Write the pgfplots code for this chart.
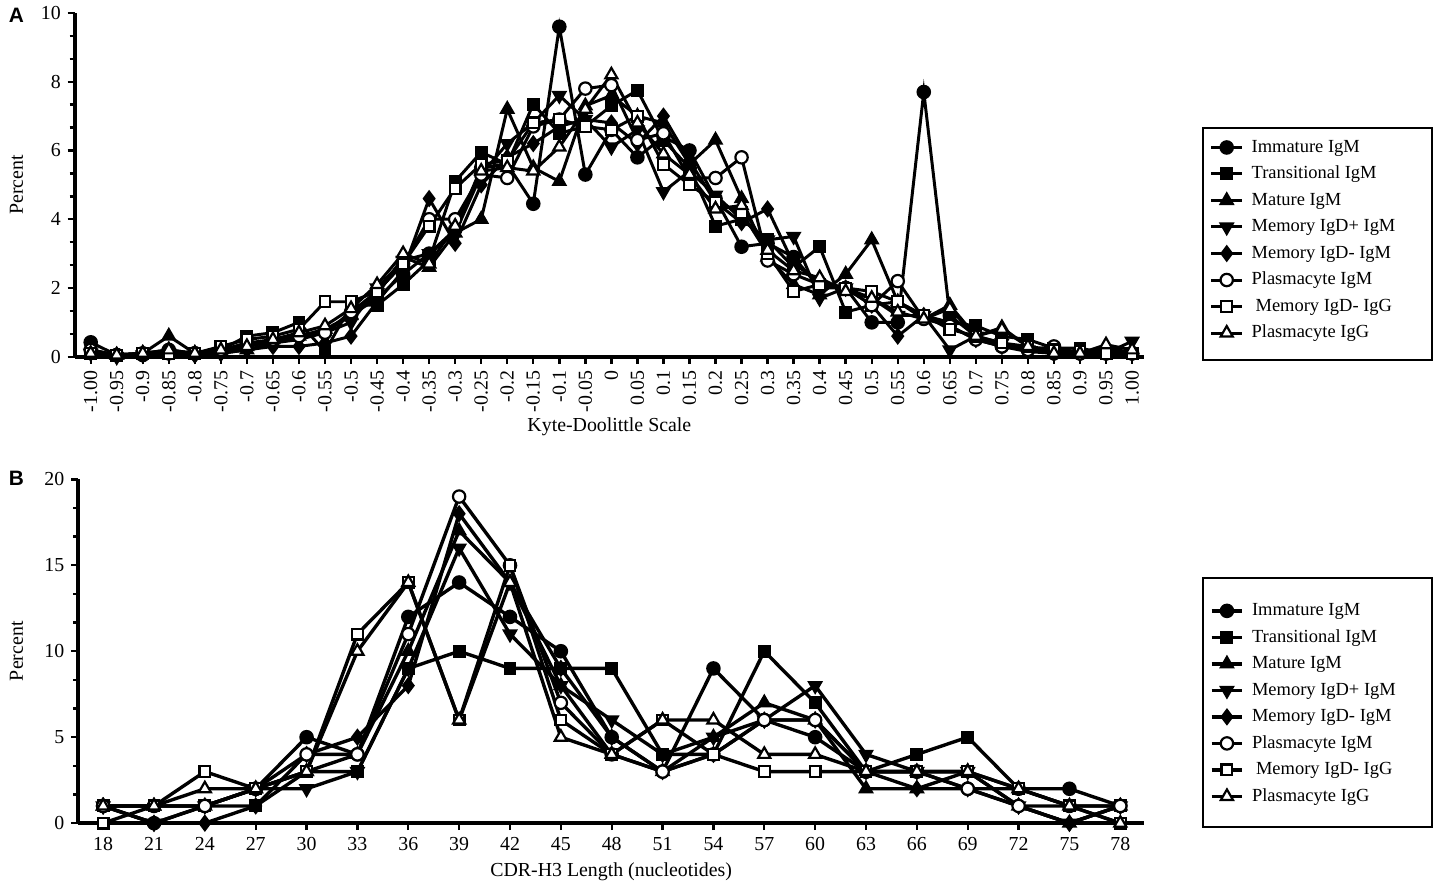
\documentclass[border=0pt]{standalone}
\usepackage{fontspec}
\setmainfont{Liberation Serif}
\newfontfamily\panelfont{Liberation Sans}
\usepackage{pgfplots}
\usepackage{pgfplotstable}
\pgfplotsset{compat=1.18}
\begin{document}
\pgfplotstableread{
x s1 s2 s3 s4 s5 s6 s7 s8
-1.00 0.42 0.1 0.1 0.1 0.2 0.2 0.1 0.1
-0.95 0.05 0.05 0.05 0.0 0.05 0.05 0.05 0.05
-0.90 0.05 0.1 0.1 0.05 0.1 0.1 0.1 0.1
-0.85 0.2 0.1 0.6 0.1 0.2 0.1 0.1 0.2
-0.80 0.1 0.1 0.1 0.05 0.05 0.1 0.1 0.1
-0.75 0.15 0.2 0.15 0.1 0.1 0.2 0.3 0.2
-0.70 0.3 0.6 0.2 0.2 0.2 0.4 0.5 0.3
-0.65 0.45 0.7 0.4 0.4 0.3 0.5 0.6 0.5
-0.60 0.6 1.0 0.6 0.5 0.3 0.6 0.8 0.7
-0.55 0.7 0.15 0.8 0.7 0.4 0.7 1.6 0.9
-0.50 1.2 1.5 1.2 1.0 0.6 1.3 1.6 1.4
-0.45 1.7 1.5 1.8 2.0 1.6 1.9 1.9 2.1
-0.40 2.4 2.1 2.9 2.8 2.5 2.7 2.7 3.0
-0.35 3.0 2.8 2.6 3.0 4.6 4.0 3.8 2.7
-0.30 3.7 5.1 3.6 3.6 3.3 4.0 4.9 3.8
-0.25 5.5 5.95 4.0 5.3 5.0 5.3 5.6 5.4
-0.20 5.6 5.6 7.2 6.2 5.8 5.2 5.7 5.5
-0.15 4.45 7.35 5.5 6.8 6.2 6.7 6.8 5.4
-0.10 9.6 6.5 5.1 7.6 6.7 6.9 6.9 6.1
-0.05 5.3 6.7 7.3 6.9 6.9 7.8 6.7 7.2
0.00 6.6 7.3 7.6 6.1 6.8 7.9 6.6 8.2
0.05 5.8 7.75 7.0 6.6 6.2 6.3 7.0 6.8
0.10 6.4 6.3 6.8 4.8 7.0 6.5 5.6 5.9
0.15 6.0 5.5 5.6 5.4 5.7 5.2 5.0 5.3
0.20 4.6 3.8 6.3 4.7 4.5 5.2 4.5 4.3
0.25 3.2 4.0 4.6 4.0 3.9 5.8 4.2 4.4
0.30 3.3 3.4 2.9 3.4 4.3 2.8 3.0 3.1
0.35 2.9 2.6 2.1 3.5 2.7 2.4 1.9 2.5
0.40 2.0 3.2 1.8 1.7 2.2 2.1 2.1 2.3
0.45 2.0 1.3 2.4 2.0 2.0 2.0 2.0 1.9
0.50 1.0 1.5 3.4 1.7 1.5 1.5 1.9 1.7
0.55 1.0 1.6 1.6 1.2 0.6 2.2 1.6 1.3
0.60 7.7 1.2 1.1 1.2 1.2 1.1 1.2 1.1
0.65 1.2 1.0 1.5 0.2 0.9 0.9 0.8 1.4
0.70 0.6 0.9 0.6 0.6 0.5 0.5 0.6 0.6
0.75 0.3 0.6 0.85 0.4 0.3 0.3 0.4 0.8
0.80 0.2 0.5 0.3 0.2 0.15 0.2 0.3 0.3
0.85 0.1 0.25 0.1 0.1 0.1 0.3 0.2 0.1
0.90 0.1 0.25 0.1 0.1 0.1 0.1 0.15 0.1
0.95 0.1 0.1 0.3 0.1 0.2 0.1 0.1 0.35
1.00 0.1 0.1 0.1 0.45 0.1 0.1 0.1 0.2
}\dataA
\pgfplotstableread{
x s1 s2 s3 s4 s5 s6 s7 s8
18 1 1 1 1 1 1 0 1
21 0 1 1 0 0 1 1 1
24 1 1 1 1 0 1 3 2
27 2 1 2 2 1 2 2 2
30 5 3 3 2 4 4 3 3
33 4 3 4 3 5 4 11 10
36 12 9 10 9 8 11 14 14
39 14 10 17 16 18 19 6 6
42 12 9 14 11 14 15 15 14
45 10 9 8 8 9 7 6 5
48 5 9 4 6 5 4 4 4
51 3 4 3 4 3 3 6 6
54 9 4 5 5 4 4 4 6
57 6 10 7 6 6 6 3 4
60 5 7 6 8 6 6 3 4
63 3 3 2 4 3 3 3 3
66 3 4 2 3 2 3 3 3
69 2 5 3 3 2 2 3 3
72 2 2 1 1 1 1 2 2
75 2 1 0 0 0 1 1 1
78 1 1 1 1 1 1 0 0
}\dataB
\pgfplotsset{
  panel/.style={
    scale only axis,
    axis lines=left,
    axis line style={-, line width=1.8bp},
    tick align=outside,
    major tick length=3.5bp, minor tick length=2.5bp,
    every tick/.style={black, line width=1.2bp},
    tick label style={font=\fontsize{10}{12}\selectfont},
    label style={font=\fontsize{8.7}{10}\selectfont},
    /pgf/number format/assume math mode=true,
    clip=false,
    ylabel={Percent},
    minor y tick num=2,
    legend cell align=left,
    legend image code/.code={\draw[mark repeat=2,mark phase=2,##1] plot coordinates {(0bp,0bp) (7.75bp,0bp) (15.5bp,0bp)};},
    legend style={anchor=north west, draw=none, fill=none, inner sep=0pt, outer sep=0pt, row sep=0pt,
      font=\fontsize{9.3}{11}\selectfont,
      nodes={inner xsep=4bp, inner ysep=2bp, text height=7bp, text depth=2.3bp}},
  },
  sA/.style={black, line width=#1, mark=*, mark size=3.1bp, mark options={solid, line width=1.1bp, fill=black}},
  sB/.style={black, line width=#1, mark=square*, mark size=2.7bp, mark options={solid, line width=1.1bp, fill=black}},
  sC/.style={black, line width=#1, mark=triangle*, mark size=3.5bp, mark options={solid, line width=1.1bp, fill=black}},
  sD/.style={black, line width=#1, mark=triangle*, mark size=3.5bp, mark options={solid, line width=1.1bp, fill=black, rotate=180}},
  sE/.style={black, line width=#1, mark=diamond*, mark size=3.5bp, mark options={solid, line width=1.1bp, fill=black}},
  sF/.style={black, line width=#1, mark=*, mark size=3.1bp, mark options={solid, line width=1.1bp, fill=white}},
  sG/.style={black, line width=#1, mark=square*, mark size=2.7bp, mark options={solid, line width=1.1bp, fill=white}},
  sH/.style={black, line width=#1, mark=triangle*, mark size=3.5bp, mark options={solid, line width=1.1bp, fill=white}},
}
\begin{tikzpicture}
\useasboundingbox (0,0) rectangle (719.5bp,446.5bp);
\begin{axis}[panel,
  at={(35bp,267.5bp)}, anchor=south west,
  width=536.5bp, height=172.5bp,
  xmin=-1.0307, xmax=1.023, ymin=0, ymax=10,
  ytick={0,2,4,6,8,10},
  xtick=data,
  xticklabels={-1.00,-0.95,-0.9,-0.85,-0.8,-0.75,-0.7,-0.65,-0.6,-0.55,-0.5,-0.45,-0.4,-0.35,-0.3,-0.25,-0.2,-0.15,-0.1,-0.05,0,0.05,0.1,0.15,0.2,0.25,0.3,0.35,0.4,0.45,0.5,0.55,0.6,0.65,0.7,0.75,0.8,0.85,0.9,0.95,1.00},
  xticklabel style={rotate=90, anchor=east},
  xlabel={Kyte-Doolittle Scale},
  every axis x label/.style={at={(axis description cs:0.5,-0.203)}, anchor=center},
  every axis y label/.style={at={(axis description cs:-0.0545,0.5)}, rotate=90, anchor=center},
  legend style={at={(1.0615,0.6473)}},
]
\addplot[sA=1.5bp] table[x=x,y=s1]{\dataA};
\addplot[sB=1.5bp] table[x=x,y=s2]{\dataA};
\addplot[sC=1.5bp] table[x=x,y=s3]{\dataA};
\addplot[sD=1.5bp] table[x=x,y=s4]{\dataA};
\addplot[sE=1.5bp] table[x=x,y=s5]{\dataA};
\addplot[sF=1.5bp] table[x=x,y=s6]{\dataA};
\addplot[sG=1.5bp] table[x=x,y=s7]{\dataA};
\addplot[sH=1.5bp] table[x=x,y=s8]{\dataA};
\legend{Immature IgM, Transitional IgM, Mature IgM, Memory IgD+ IgM, Memory IgD- IgM, Plasmacyte IgM, \hspace{2bp}Memory IgD- IgG, Plasmacyte IgG}
\end{axis}
\begin{axis}[panel,
  at={(36.75bp,33.5bp)}, anchor=south west,
  width=534.75bp, height=172.5bp,
  xmin=16.53, xmax=79.4, ymin=0, ymax=20,
  ytick={0,5,10,15,20},
  xtick=data,
  xlabel={CDR-H3 Length (nucleotides)},
  every axis x label/.style={at={(axis description cs:0.5,-0.142)}, anchor=center},
  every axis y label/.style={at={(axis description cs:-0.058,0.5)}, rotate=90, anchor=center},
  legend style={at={(1.0617,0.656)}},
]
\addplot[sA=1.7bp] table[x=x,y=s1]{\dataB};
\addplot[sB=1.7bp] table[x=x,y=s2]{\dataB};
\addplot[sC=1.7bp] table[x=x,y=s3]{\dataB};
\addplot[sD=1.7bp] table[x=x,y=s4]{\dataB};
\addplot[sE=1.7bp] table[x=x,y=s5]{\dataB};
\addplot[sF=1.7bp] table[x=x,y=s6]{\dataB};
\addplot[sG=1.7bp] table[x=x,y=s7]{\dataB};
\addplot[sH=1.7bp] table[x=x,y=s8]{\dataB};
\legend{Immature IgM, Transitional IgM, Mature IgM, Memory IgD+ IgM, Memory IgD- IgM, Plasmacyte IgM, \hspace{2bp}Memory IgD- IgG, Plasmacyte IgG}
\end{axis}
\draw[line width=1bp] (601bp,266bp) rectangle (716bp,382.5bp);
\draw[line width=1bp] (601bp,31.5bp) rectangle (716bp,156.5bp);
\node[font={\panelfont\bfseries\fontsize{10.5}{12}\selectfont}] at (5.75bp,439bp) {A};
\node[font={\panelfont\bfseries\fontsize{10.5}{12}\selectfont}] at (5.75bp,206.5bp) {B};
\end{tikzpicture}
\end{document}
